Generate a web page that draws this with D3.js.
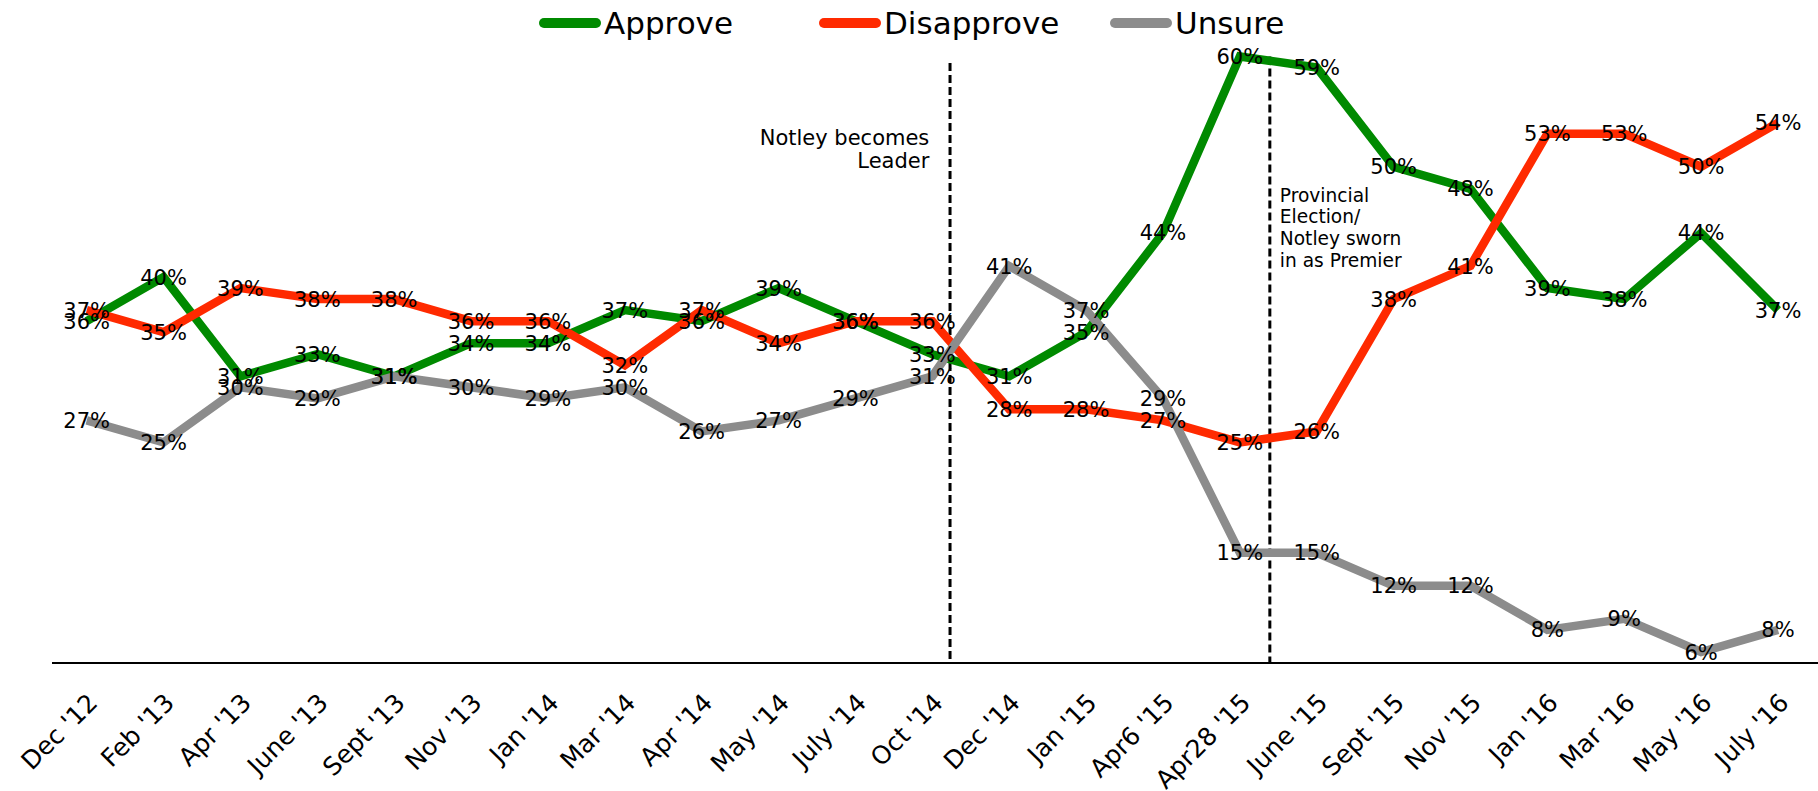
<!DOCTYPE html>
<html>
<head>
<meta charset="utf-8">
<script src="https://cdnjs.cloudflare.com/ajax/libs/d3/7.8.5/d3.min.js"></script>
<style>
  body { margin: 0; background: #fff; }
  svg text { font-family: "DejaVu Sans", Verdana, sans-serif; fill: #000; }
</style>
</head>
<body>
<svg id="chart" width="1818" height="791"></svg>
<script>
// poll dates
var months = ["Dec '12", "Feb '13", "Apr '13", "June '13", "Sept '13", "Nov '13", "Jan '14", "Mar '14",
    "Apr '14", "May '14", "July '14", "Oct '14", "Dec '14", "Jan '15", "Apr6 '15", "Apr28 '15",
    "June '15", "Sept '15", "Nov '15", "Jan '16", "Mar '16", "May '16", "July '16"];

var approve = [36, 40, 31, 33, 31, 34, 34, 37, 36, 39, 36, 33, 31, 35, 44, 60, 59, 50, 48, 39, 38, 44, 37];
var disapprove = [37, 35, 39, 38, 38, 36, 36, 32, 37, 34, 36, 36, 28, 28, 27, 25, 26, 38, 41, 53, 53, 50, 54];
var unsure = [27, 25, 30, 29, 31, 30, 29, 30, 26, 27, 29, 31, 41, 37, 29, 15, 15, 12, 12, 8, 9, 6, 8];

var seriesNames = ["Approve", "Disapprove", "Unsure"];
var seriesColors = ["#008a00", "#ff2a00", "#8c8c8c"];

// events: placed after a given month, fraction of a step
var events = [
    { after: "Oct '14", frac: 0.23, top: 59.4, lines: ["Notley becomes", "Leader"], side: "left" },
    { after: "Apr28 '15", frac: 0.39, top: 60, lines: ["Provincial", "Election/", "Notley sworn", "in as Premier"], side: "right" }
];

var svg = d3.select("#chart");

var x = d3.scalePoint().domain(months).range([86.7, 1778]);
var y = d3.scaleLinear().domain([5, 60]).range([663, 56.5]);
var step = x.step();

var series = [approve, disapprove, unsure].map(function (vals, i) {
    return {
        name: seriesNames[i],
        color: seriesColors[i],
        values: vals.map(function (v, j) { return { month: months[j], value: v }; })
    };
});

// x axis
var xAxis = svg.append("g")
    .attr("transform", "translate(0,663)")
    .call(d3.axisBottom(x).tickSize(0).tickFormat(""));
xAxis.select(".domain").attr("d", "M52,0H1818").attr("stroke", "#000").attr("stroke-width", 2);

svg.append("g").selectAll("text")
    .data(months)
    .enter().append("text")
    .attr("transform", function (d) { return "translate(" + (x(d) + 6) + ",698) rotate(-45)"; })
    .attr("text-anchor", "end")
    .attr("dy", "0.35em")
    .attr("font-size", "25px")
    .text(function (d) { return d; });

// event lines
events.forEach(function (ev) {
    var ex = x(ev.after) + ev.frac * step;
    svg.append("line")
        .attr("x1", ex).attr("x2", ex)
        .attr("y1", y(ev.top)).attr("y2", y(5))
        .attr("stroke", "#000")
        .attr("stroke-width", 3)
        .attr("stroke-dasharray", "8,4");
    var left = ev.side == "left";
    var t = svg.append("text")
        .attr("font-size", left ? "21px" : "18.6px")
        .attr("text-anchor", left ? "end" : "start");
    ev.lines.forEach(function (ln, k) {
        t.append("tspan")
            .attr("x", left ? ex - 20.7 : ex + 10)
            .attr("y", left ? 145 + k * 23.3 : 201.7 + k * 21.7)
            .text(ln);
    });
});

// lines
var line = d3.line()
    .x(function (d) { return x(d.month); })
    .y(function (d) { return y(d.value); });

svg.append("g").selectAll("path")
    .data(series)
    .enter().append("path")
    .attr("d", function (d) { return line(d.values); })
    .attr("fill", "none")
    .attr("stroke", function (d) { return d.color; })
    .attr("stroke-width", 8.5)
    .attr("stroke-linejoin", "miter");

// data labels
series.forEach(function (s) {
    svg.append("g").selectAll("text")
        .data(s.values)
        .enter().append("text")
        .attr("x", function (d) { return x(d.month); })
        .attr("y", function (d) { return y(d.value); })
        .attr("dy", "0.36em")
        .attr("text-anchor", "middle")
        .attr("font-size", "21px")
        .text(function (d) { return d.value + "%"; });
});

// legend
var legendX = [540, 820, 1111];
var legend = svg.append("g").selectAll("g")
    .data(series)
    .enter().append("g")
    .attr("transform", function (d, i) { return "translate(" + legendX[i] + ",23)"; });
legend.append("line")
    .attr("x1", 4).attr("x2", 56)
    .attr("stroke", function (d) { return d.color; })
    .attr("stroke-width", 10)
    .attr("stroke-linecap", "round");
legend.append("text")
    .attr("x", 64)
    .attr("dy", "0.36em")
    .attr("font-size", "31px")
    .text(function (d) { return d.name; });
</script>
</body>
</html>
